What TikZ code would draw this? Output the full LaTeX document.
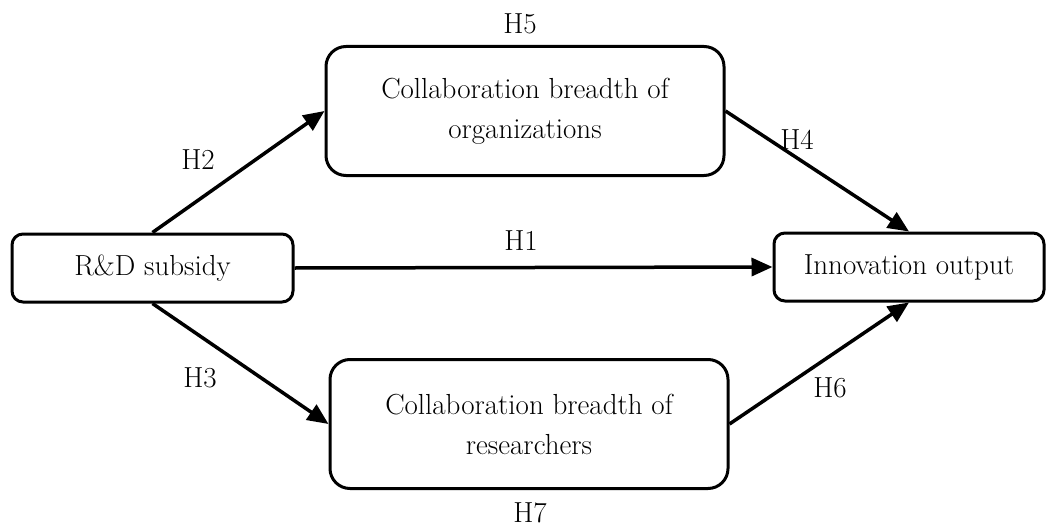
\documentclass[tikz,border=0pt]{standalone}
\usetikzlibrary{arrows.meta}
\begin{document}
\begin{tikzpicture}[x=1pt,y=-1pt,
  font=\fontsize{29}{40}\selectfont,
  box/.style={draw=black, line width=3pt, inner sep=0pt, align=center},
  smallbox/.style={box, rounded corners=11pt, minimum width=281pt, minimum height=68pt},
  bigbox/.style={box, rounded corners=20pt, minimum width=398pt, minimum height=129pt},
  arr/.style={line width=3.5pt, -{Triangle[length=21pt,width=18pt]}},
  lab/.style={inner sep=0pt}]
\useasboundingbox (0,0) rectangle (1046,527);
\node[smallbox] (rd) at (152.5,268) {R\&D subsidy};
\node[smallbox, minimum width=270pt] (out) at (909,267) {Innovation output};
\node[bigbox] (org) at (525,111) {Collaboration breadth of\\organizations};
\node[bigbox] (res) at (529,424) {Collaboration breadth of\\researchers};
\draw[arr] (rd.east) -- (out.west);
\draw[arr] (rd.north) -- (org.west);
\draw[arr] (rd.south) -- (res.west);
\draw[arr] (org.east) -- (out.north);
\draw[arr] (res.east) -- (out.south);
\node[lab] (h1) at (521,241) {H1};
\node[lab] (h2) at (198,160) {H2};
\node[lab] (h3) at (200,378) {H3};
\node[lab] (h4) at (797,140) {H4};
\node[lab] (h5) at (520,24) {H5};
\node[lab] (h6) at (830,388) {H6};
\node[lab] (h7) at (530,513) {H7};
\end{tikzpicture}
\end{document}
